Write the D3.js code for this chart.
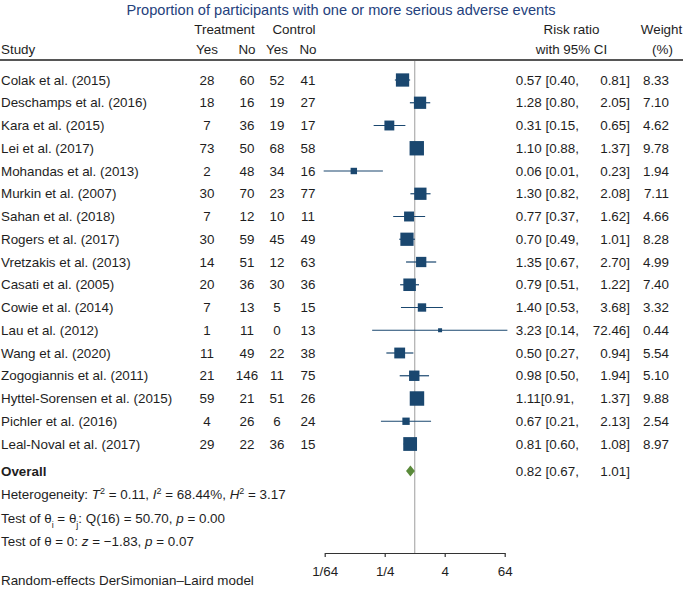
<!DOCTYPE html>
<html><head><meta charset="utf-8">
<script src="https://cdn.jsdelivr.net/npm/d3@7"></script>
<style>
body{margin:0;background:#fff}
text{font-family:"Liberation Sans",Arial,Helvetica,sans-serif;font-size:13.4px;fill:#1e1e1e}
</style>
</head><body>
<svg id="c" width="683" height="589"></svg>
<script>
const studies = ["Colak et al. (2015)","Deschamps et al. (2016)","Kara et al. (2015)","Lei et al. (2017)","Mohandas et al. (2013)","Murkin et al. (2007)","Sahan et al. (2018)","Rogers et al. (2017)","Vretzakis et al. (2013)","Casati et al. (2005)","Cowie et al. (2014)","Lau et al. (2012)","Wang et al. (2020)","Zogogiannis et al. (2011)","Hyttel-Sorensen et al. (2015)","Pichler et al. (2016)","Leal-Noval et al. (2017)"];
const tYes = [28,18,7,73,2,30,7,30,14,20,7,1,11,21,59,4,29];
const tNo  = [60,16,36,50,48,70,12,59,51,36,13,11,49,146,21,26,22];
const cYes = [52,19,19,68,34,23,10,45,12,30,5,0,22,11,51,6,36];
const cNo  = [41,27,17,58,16,77,11,49,63,36,15,13,38,75,26,24,15];
const rr    = [0.57,1.28,0.31,1.10,0.06,1.30,0.77,0.70,1.35,0.79,1.40,3.23,0.50,0.98,1.11,0.67,0.81];
const ciLo  = [0.40,0.80,0.15,0.88,0.0149,0.82,0.37,0.49,0.67,0.51,0.53,0.14,0.27,0.50,0.91,0.21,0.60];
const ciHi  = [0.81,2.05,0.65,1.37,0.23,2.08,1.62,1.01,2.70,1.22,3.68,72.46,0.94,1.94,1.37,2.13,1.08];
const weight = [8.33,7.10,4.62,9.78,1.94,7.11,4.66,8.28,4.99,7.40,3.32,0.44,5.54,5.10,9.88,2.54,8.97];
const overallRR = 0.82, overallLo = 0.67, overallHi = 1.01;
const axisTicks = [1/64, 1/4, 4, 64];
const axisTickLabels = ["1/64","1/4","4","64"];
const hetT2 = "0.11", hetI2 = "68.44%", hetH2 = "3.17";
const qDf = 16, qStat = "50.70", qP = "0.00";
const zStat = "\u22121.83", zP = "0.07";
const noSpaceRows = [14]; // "1.11[0.91," as printed

const svg = d3.select("#c");
const boxColor = "#1a476f";
const diamondColor = "#5a8a3a";

const x = d3.scaleLog().base(2).domain([1/64, 64]).range([324.7, 504.7]);
const y = d3.scalePoint().domain(d3.range(studies.length)).range([80, 444]);
const yOverall = 471;

// Title
svg.append("text").attr("x", 341).attr("y", 9.5).attr("dy", "0.35em")
  .attr("text-anchor", "middle").style("fill", "#24417c").style("font-size", "14.6px")
  .text("Proportion of participants with one or more serious adverse events");

// headers
const colX = [207, 247, 277, 308];
const hdr = (t, xx, yy, anchor) => svg.append("text").attr("x", xx).attr("y", yy).attr("dy", "0.35em")
  .attr("text-anchor", anchor || "middle").text(t);
hdr("Treatment", 224.5, 29);
hdr("Control", 294, 29);
hdr("Study", 1, 49, "start");
hdr("Yes", colX[0], 49); hdr("No", colX[1], 49); hdr("Yes", colX[2], 49); hdr("No", colX[3], 49);
hdr("Risk ratio", 571.5, 29);
hdr("with 95% CI", 571.5, 49);
hdr("Weight", 661.5, 29);
hdr("(%)", 662.5, 49);

svg.append("line").attr("x1", 0).attr("x2", 683).attr("y1", 60).attr("y2", 60)
  .attr("stroke", "#1e1e1e").attr("stroke-width", 1.3);

// reference line at RR=1
svg.append("line").attr("x1", x(1)).attr("x2", x(1)).attr("y1", 61).attr("y2", 553)
  .attr("stroke", "#b4b4b4").attr("stroke-width", 1.3);

// rows
const rows = svg.append("g").selectAll("g").data(studies).join("g");
rows.append("text").attr("x", 1).attr("y", (d, i) => y(i)).attr("dy", "0.35em").text(d => d);
[tYes, tNo, cYes, cNo].forEach((arr, k) => {
  rows.append("text").attr("x", colX[k]).attr("y", (d, i) => y(i)).attr("dy", "0.35em")
    .attr("text-anchor", "middle").text((d, i) => arr[i]);
});
rows.append("text").attr("x", 515.7).attr("y", (d, i) => y(i)).attr("dy", "0.35em")
  .text((d, i) => rr[i].toFixed(2) + (noSpaceRows.includes(i) ? "" : " ") + "[" + ciLo[i].toFixed(2) + ",");
rows.append("text").attr("x", 630).attr("y", (d, i) => y(i)).attr("dy", "0.35em")
  .attr("text-anchor", "end").text((d, i) => ciHi[i].toFixed(2) + "]");
rows.append("text").attr("x", 669).attr("y", (d, i) => y(i)).attr("dy", "0.35em")
  .attr("text-anchor", "end").text((d, i) => weight[i].toFixed(2));

// CI lines and boxes
rows.append("line").attr("x1", (d, i) => x(ciLo[i])).attr("x2", (d, i) => x(ciHi[i]))
  .attr("y1", (d, i) => y(i)).attr("y2", (d, i) => y(i))
  .attr("stroke", boxColor).attr("stroke-width", 1.2);
const side = w => Math.max(4, 4.6 * Math.sqrt(w));
rows.append("rect")
  .attr("x", (d, i) => x(rr[i]) - side(weight[i]) / 2)
  .attr("y", (d, i) => y(i) - side(weight[i]) / 2)
  .attr("width", (d, i) => side(weight[i]))
  .attr("height", (d, i) => side(weight[i]))
  .attr("fill", boxColor);

// overall
svg.append("text").attr("x", 1).attr("y", yOverall).attr("dy", "0.35em")
  .style("font-weight", "bold").text("Overall");
svg.append("polygon")
  .attr("points", [[x(overallLo), yOverall], [x(overallRR), yOverall - 5.5], [x(overallHi), yOverall], [x(overallRR), yOverall + 5.5]].map(p => p.join(",")).join(" "))
  .attr("fill", diamondColor);
svg.append("text").attr("x", 515.7).attr("y", yOverall).attr("dy", "0.35em")
  .text(overallRR.toFixed(2) + " [" + overallLo.toFixed(2) + ",");
svg.append("text").attr("x", 630).attr("y", yOverall).attr("dy", "0.35em")
  .attr("text-anchor", "end").text(overallHi.toFixed(2) + "]");

// heterogeneity lines
function richText(yy, parts) {
  const t = svg.append("text").attr("x", 1).attr("y", yy).attr("dy", "0.35em");
  parts.forEach(p => {
    const s = t.append("tspan").text(p.t);
    if (p.i) s.style("font-style", "italic");
    if (p.sup) s.attr("baseline-shift", "super").style("font-size", "9px");
    if (p.sub) s.attr("baseline-shift", "sub").style("font-size", "9px");
  });
}
richText(494.5, [{t:"Heterogeneity: "},{t:"T",i:1},{t:"2",sup:1},{t:" = " + hetT2 + ", "},{t:"I",i:1},{t:"2",sup:1},
  {t:" = " + hetI2 + ", "},{t:"H",i:1},{t:"2",sup:1},{t:" = " + hetH2}]);
richText(518, [{t:"Test of \u03b8"},{t:"i",sub:1},{t:" = \u03b8"},{t:"j",sub:1},{t:": Q(" + qDf + ") = " + qStat + ", "},{t:"p",i:1},{t:" = " + qP}]);
richText(541, [{t:"Test of \u03b8 = 0: "},{t:"z",i:1},{t:" = " + zStat + ", "},{t:"p",i:1},{t:" = " + zP}]);

// axis
const axis = d3.axisBottom(x).tickValues(axisTicks).tickFormat((d, i) => axisTickLabels[i])
  .tickSize(4).tickSizeOuter(0).tickPadding(9);
const ag = svg.append("g").attr("transform", "translate(0,553)").call(axis);
ag.select(".domain").attr("stroke", "#333").attr("stroke-width", 1.2);
ag.selectAll(".tick line").attr("stroke", "#333").attr("stroke-width", 1.2);
ag.selectAll(".tick text").style("font-size", "13.4px").style("font-family", '"Liberation Sans",Arial,sans-serif').attr("fill", "#1e1e1e");

svg.append("text").attr("x", 1).attr("y", 580.5).attr("dy", "0.35em")
  .text("Random-effects DerSimonian\u2013Laird model");
</script>
</body></html>
